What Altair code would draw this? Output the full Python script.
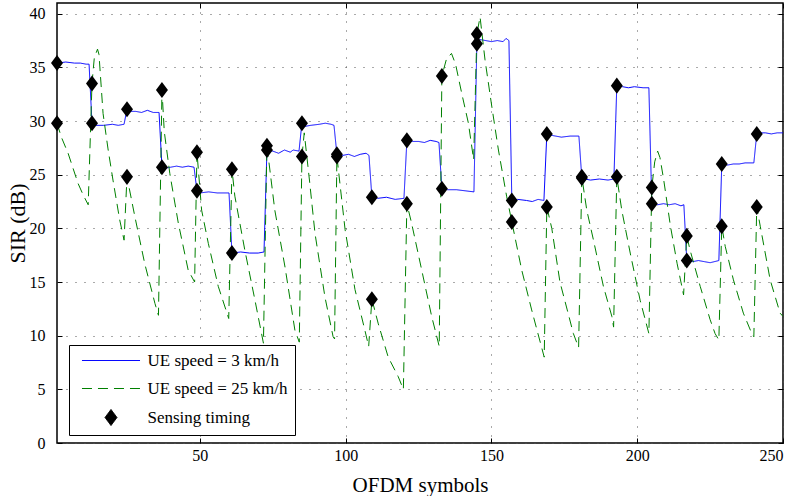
import altair as alt
import pandas as pd

# ---------------- data ----------------
series_names = ["UE speed = 3 km/h", "UE speed = 25 km/h", "Sensing timing"]
series_colors = ["#0000ff", "#008000", "#000000"]

# UE speed = 3 km/h (blue, solid)
blue_x = [1, 4, 7, 9, 11, 12,
          13, 14, 17, 20, 22, 24,
          25, 26, 28, 30, 32, 34, 36,
          37, 38, 40, 42, 44, 46, 48,
          49, 50, 53, 56, 60,
          61, 64, 67, 70, 72,
          73, 75, 77, 79, 81, 82, 84,
          85, 86, 88, 91, 93, 95, 96,
          97, 99, 101, 103, 105, 107, 108,
          109, 111, 114, 117, 120,
          121, 123, 125, 127, 129, 131, 132,
          133, 135, 138, 141, 144,
          145, 146, 148, 150, 152, 154, 155, 156,
          157, 159, 162, 164, 166, 168,
          169, 170, 172, 174, 177, 180,
          181, 182, 184, 187, 190, 192,
          193, 195, 197, 199, 202, 204,
          205, 207, 209, 211, 213, 215, 216,
          217, 219, 221, 223, 225, 228,
          229, 231, 233, 235, 237, 240,
          241, 242, 244, 246, 248, 250]
blue_y = [35.4, 35.5, 35.4, 35.4, 35.3, 35.3,
          29.8, 29.6, 29.6, 29.7, 29.6, 29.7,
          31.1, 30.9, 30.9, 30.8, 31.0, 30.8, 30.8,
          25.7, 25.6, 25.7, 25.8, 25.7, 25.8, 25.7,
          23.5, 23.3, 23.4, 23.3, 23.3,
          17.7, 17.8, 17.7, 17.7, 17.8,
          27.3, 27.2, 27.0, 27.3, 27.1, 27.3, 27.2,
          29.8, 29.5, 29.6, 29.7, 29.8, 29.7, 29.6,
          26.9, 26.8, 26.9, 26.7, 26.9, 27.0, 26.8,
          22.9, 22.8, 22.9, 22.7, 22.8,
          28.2, 28.1, 28.1, 28.0, 28.2, 28.1, 28.0,
          23.7, 23.6, 23.6, 23.5, 23.4,
          37.2, 37.6, 37.5, 37.4, 37.5, 37.4, 37.7, 37.5,
          22.6, 22.7, 22.6, 22.5, 22.7, 22.6,
          28.8, 28.7, 28.6, 28.5, 28.6, 28.6,
          24.7, 24.6, 24.5, 24.6, 24.5, 24.6,
          33.3, 33.2, 33.1, 33.2, 33.1, 33.1,
          22.3, 22.2, 22.3, 22.2, 22.3, 22.1, 22.2,
          17.0, 16.9, 17.0, 16.9, 16.8, 17.0,
          26.0, 25.9, 26.0, 26.0, 26.1, 26.1,
          28.8, 28.9, 28.9, 28.8, 28.9, 28.9]

# UE speed = 25 km/h (green, dashed)
green_x = [1, 2.5, 4.8, 6.5, 8.2, 10, 11.7,
           13, 13.8, 14.9, 15.4, 16.8, 18.5, 20.2, 22.5, 24,
           25, 27.7, 31.1, 34.6, 35.8,
           37, 37.8, 39.7, 42.6, 46, 48.2,
           49, 50.6, 52.9, 56.3, 59.9,
           61, 62, 65.4, 68.9, 71.8,
           73, 75.7, 79.2, 82.6, 84.1,
           85, 85.8, 87.7, 89.5, 92.9, 95.7, 96.2,
           97, 99.8, 103.2, 106.6, 107.9,
           109, 111.2, 114.6, 118, 119.8,
           121, 122.6, 126.1, 129.5, 132.1,
           133, 134.6, 136.3, 137.7, 139.8, 142.1, 143.9,
           145, 146.1, 147.8, 150.1, 152.4, 155.2, 157, 160.4, 163.8, 168.1,
           169, 170.7, 173.5, 176, 178.1, 179.9,
           181, 182.7, 185, 188.4, 191.3, 191.9,
           193, 194.7, 197.6, 201, 204,
           205, 206, 207, 207.8, 209.1, 211.4, 213.7, 215.9,
           217, 218.1, 221.6, 225, 226.7, 228,
           229, 230.2, 233, 236.4, 239.3, 240,
           241, 242.2, 245.6, 249, 250]
green_y = [29.8, 28.5, 27.0, 25.6, 24.2, 23.1, 22.2,
           33.5, 35.9, 36.7, 36.2, 30.7, 27.4, 24.5, 20.8, 18.9,
           24.8, 21.1, 16.7, 13.0, 11.9,
           32.9, 29.0, 25.1, 20.5, 16.1, 15.0,
           27.1, 21.7, 18.6, 14.6, 11.6,
           25.5, 23.0, 18.0, 13.3, 9.3,
           27.7, 21.7, 16.4, 10.5, 9.4,
           26.7, 28.9, 24.2, 19.5, 13.6, 9.9, 9.7,
           26.7, 19.9, 14.3, 10.5, 9.0,
           13.4, 11.1, 8.0, 6.2, 5.0,
           22.3, 20.5, 16.1, 11.8, 9.0,
           34.2, 35.8, 36.3, 35.3, 32.6, 29.8, 26.4,
           38.1, 39.7, 35.7, 31.4, 27.3, 23.0, 20.6, 16.1, 12.4, 8.0,
           22.0, 20.0, 15.0, 12.4, 10.2, 8.9,
           24.8, 21.7, 18.9, 14.6, 11.8, 10.8,
           24.8, 21.7, 17.7, 13.3, 10.2,
           23.8, 26.2, 27.2, 26.6, 24.5, 20.2, 16.7, 13.8,
           19.3, 18.0, 14.6, 11.5, 10.2, 9.6,
           20.2, 18.3, 15.2, 12.1, 10.2, 9.9,
           22.0, 20.2, 15.2, 12.1, 11.8]

# Sensing timing (black diamonds)
sense_x = [1, 13, 25, 37, 49, 61, 73, 85, 97, 109, 121,
           133, 145, 157, 169, 181, 193, 205, 217, 229, 241]
sense_blue = [35.4, 29.8, 31.1, 25.7, 23.5, 17.7, 27.3, 29.8, 26.9, 22.9, 28.2,
              23.7, 37.2, 22.6, 28.8, 24.7, 33.3, 22.3, 17.0, 26.0, 28.8]
sense_green = [29.8, 33.5, 24.8, 32.9, 27.1, 25.5, 27.7, 26.7, 26.7, 13.4, 22.3,
               34.2, 38.1, 20.6, 22.0, 24.8, 24.8, 23.8, 19.3, 20.2, 22.0]

x_ticks = [50, 100, 150, 200, 250]
y_ticks = [0, 5, 10, 15, 20, 25, 30, 35, 40]

# ---------------- tables ----------------
blue_df = pd.DataFrame({"x": blue_x, "y": blue_y, "series": series_names[0]})
green_df = pd.DataFrame({"x": green_x, "y": green_y, "series": series_names[1]})
sense_df = pd.DataFrame({"x": sense_x + sense_x,
                         "y": sense_blue + sense_green,
                         "series": series_names[2]})

FONT = "Liberation Serif"
DASH = [10, 6]
LINE_PATH = "M-3.87,0L3.87,0"
DIAMOND_PATH = "M0,-1.07L0.8,0L0,1.07L-0.8,0Z"

xscale = alt.Scale(domain=[1, 250], nice=False, zero=False)
yscale = alt.Scale(domain=[0, 41], nice=False, zero=False)


def make_legend():
    return alt.Legend(
        title=None, orient="none", legendX=12, legendY=342,
        direction="vertical", fillColor="white", strokeColor="black",
        padding=7, rowPadding=10, symbolOffset=26.5, labelOffset=28,
        labelFont=FONT, labelFontSize=17, labelColor="black",
        symbolSize=225, symbolStrokeWidth=1,
    )


color = alt.Color("series:N",
                  scale=alt.Scale(domain=series_names, range=series_colors),
                  legend=make_legend())
dash = alt.StrokeDash("series:N",
                      scale=alt.Scale(domain=series_names,
                                      range=[[1, 0], DASH, [1, 0]]),
                      legend=make_legend())
shape = alt.Shape("series:N",
                  scale=alt.Scale(domain=series_names,
                                  range=[LINE_PATH, LINE_PATH, DIAMOND_PATH]),
                  legend=make_legend())

common_axis = dict(domain=False, ticks=True, tickSize=5, tickColor="black",
                   tickWidth=1, offset=-5)

x_bottom = alt.Axis(orient="bottom", values=x_ticks, grid=True,
                    gridDash=[1, 8], gridColor="#555555", gridWidth=1,
                    labelPadding=4, labelFont=FONT, labelFontSize=16,
                    labelColor="black", title="OFDM symbols",
                    titleFont=FONT, titleFontSize=21, titleFontWeight="normal",
                    titleColor="black", titlePadding=11, **common_axis)
y_left = alt.Axis(orient="left", values=y_ticks, grid=True,
                  gridDash=[1, 8], gridColor="#555555", gridWidth=1,
                  labelPadding=12, labelFont=FONT, labelFontSize=16,
                  labelColor="black", title="SIR (dB)",
                  titleFont=FONT, titleFontSize=22, titleFontWeight="normal",
                  titleColor="black", titlePadding=0, **common_axis)
x_top = alt.Axis(orient="top", values=x_ticks, grid=False, labels=False,
                 title=None, **common_axis)
y_right = alt.Axis(orient="right", values=y_ticks, grid=False, labels=False,
                   title=None, **common_axis)

blue = alt.Chart(blue_df).mark_line(strokeWidth=1, clip=True).encode(
    x=alt.X("x:Q", scale=xscale, axis=x_bottom),
    y=alt.Y("y:Q", scale=yscale, axis=y_left),
    color=color,
    strokeDash=dash,
)

green = alt.Chart(green_df).mark_line(strokeWidth=1, clip=True).encode(
    x=alt.X("x:Q", scale=xscale, axis=x_top),
    y=alt.Y("y:Q", scale=yscale, axis=y_right),
    color=color,
    strokeDash=dash,
)

points = alt.Chart(sense_df).mark_point(
    size=225, filled=True, opacity=1, strokeWidth=0.5
).encode(
    x=alt.X("x:Q", scale=xscale, axis=None),
    y=alt.Y("y:Q", scale=yscale, axis=None),
    color=color,
    shape=shape,
)

chart = alt.layer(blue, green, points).resolve_axis(
    x="independent", y="independent"
).properties(
    width=726, height=440,
    padding={"left": 57, "top": 3, "right": 18, "bottom": 53},
    autosize=alt.AutoSizeParams(type="none"),
    background="white",
).configure_view(stroke="black", strokeWidth=1.5)

chart.save("out.html", embed_options={"renderer": "svg", "actions": False})
